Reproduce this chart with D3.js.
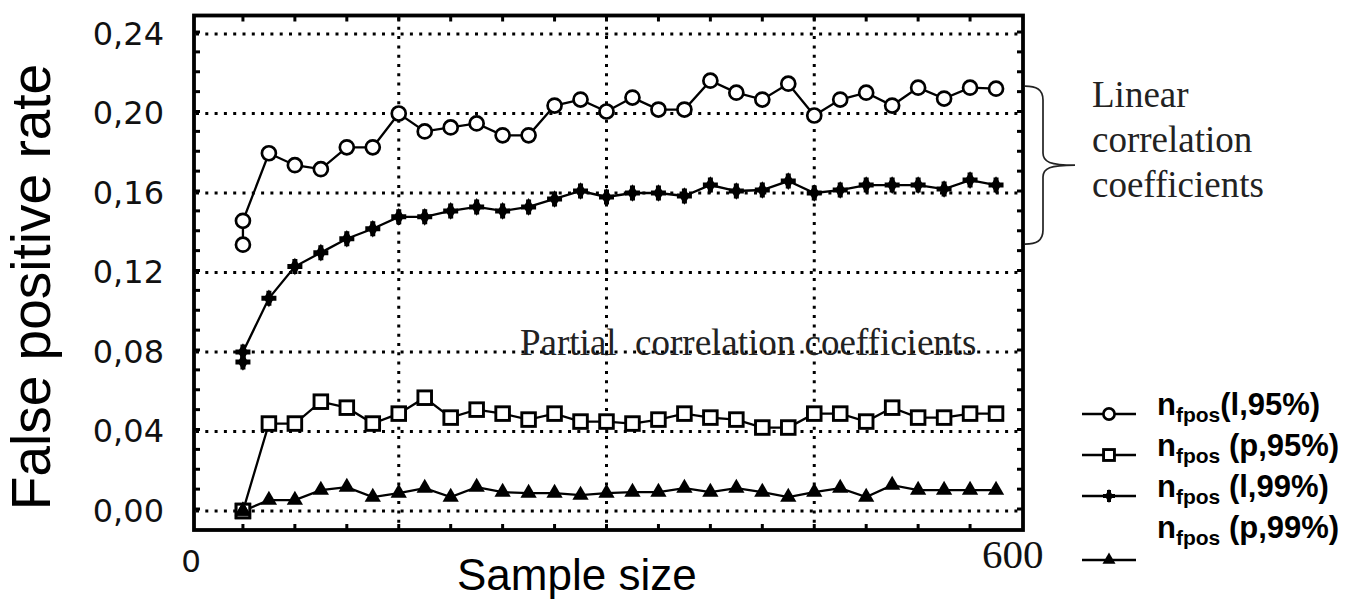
<!DOCTYPE html>
<html>
<head>
<meta charset="utf-8">
<script src="https://cdn.jsdelivr.net/npm/d3@7"></script>
<style>
  body { margin: 0; background: #fff; }
</style>
</head>
<body>
<svg id="chart" width="1356" height="601"></svg>
<script>
// sample sizes (two runs share the first size)
const sampleSize = [37.5, 37.5, 56.25, 75, 93.75, 112.5, 131.25, 150, 168.75, 187.5,
  206.25, 225, 243.75, 262.5, 281.25, 300, 318.75, 337.5, 356.25, 375,
  393.75, 412.5, 431.25, 450, 468.75, 487.5, 506.25, 525, 543.75, 562.5, 581.25];

const linear95 = [0.134, 0.146, 0.180, 0.174, 0.172, 0.183, 0.183, 0.200, 0.191, 0.193,
  0.195, 0.189, 0.189, 0.204, 0.207, 0.201, 0.208, 0.202, 0.202, 0.2165,
  0.2105, 0.207, 0.215, 0.199, 0.207, 0.2105, 0.204, 0.213, 0.2075, 0.213, 0.2125];

const partial95 = [0.0, 0.0, 0.044, 0.044, 0.055, 0.052, 0.044, 0.049, 0.057, 0.047,
  0.051, 0.049, 0.046, 0.049, 0.045, 0.045, 0.044, 0.046, 0.049, 0.047,
  0.046, 0.042, 0.042, 0.049, 0.049, 0.045, 0.052, 0.047, 0.047, 0.049, 0.049];

const linear99 = [0.075, 0.080, 0.107, 0.123, 0.130, 0.137, 0.142, 0.148, 0.148, 0.151,
  0.153, 0.151, 0.153, 0.157, 0.161, 0.158, 0.160, 0.160, 0.1585, 0.164,
  0.161, 0.1615, 0.166, 0.160, 0.1615, 0.164, 0.164, 0.164, 0.162, 0.1665, 0.164];

const partial99 = [0.0, 0.0, 0.0055, 0.0055, 0.0105, 0.012, 0.007, 0.009, 0.0115, 0.007,
  0.012, 0.0095, 0.009, 0.009, 0.008, 0.009, 0.0095, 0.0095, 0.0115, 0.0095,
  0.0115, 0.0095, 0.007, 0.0095, 0.0115, 0.007, 0.013, 0.0105, 0.0105, 0.0105, 0.0105];

const yTicks = [0, 0.04, 0.08, 0.12, 0.16, 0.20, 0.24];
const xLabels = [0, 600];
const xGrid = [150, 300, 450];
const braceRange = [0.2138, 0.1343];   // linear correlation group

const series = [
  { key: "(l,95%)", values: linear95, marker: "circle" },
  { key: " (p,95%)", values: partial95, marker: "square" },
  { key: " (l,99%)", values: linear99, marker: "cross" },
  { key: " (p,99%)", values: partial99, marker: "triangle" }
];

const svg = d3.select("#chart");

const x = d3.scaleLinear().domain([0, 600]).range([191, 1022]);
const y = d3.scaleLinear().domain([0, 0.24]).range([511, 34]);

const frame = { left: 194, right: 1023, top: 15.5, bottom: 530 };

// dotted grid
const grid = svg.append("g")
  .attr("stroke", "#000")
  .attr("stroke-width", 3)
  .attr("stroke-dasharray", "3,6.3");

grid.selectAll("line.h")
  .data(yTicks)
  .enter()
  .append("line")
  .attr("x1", frame.left + 2)
  .attr("x2", frame.right - 2)
  .attr("y1", d => y(d))
  .attr("y2", d => y(d));

grid.selectAll("line.v")
  .data(xGrid)
  .enter()
  .append("line")
  .attr("x1", d => x(d))
  .attr("x2", d => x(d))
  .attr("y1", frame.top + 2)
  .attr("y2", frame.bottom - 2);

// minor ticks, pointing inwards
const ticks = svg.append("g").attr("stroke", "#000").attr("stroke-width", 3);
const xMinor = d3.range(37.5, 600, 37.5);
const yMinor = d3.range(-0.009, 0.2499, 0.01).map(d => Math.round(d * 1000) / 1000);

xMinor.forEach(v => {
  ticks.append("line").attr("x1", x(v)).attr("x2", x(v))
    .attr("y1", frame.bottom).attr("y2", frame.bottom - 6);
  ticks.append("line").attr("x1", x(v)).attr("x2", x(v))
    .attr("y1", frame.top).attr("y2", frame.top + 6);
});
yMinor.forEach(v => {
  if (y(v) < frame.top + 3 || y(v) > frame.bottom - 3) return;
  ticks.append("line").attr("x1", frame.left).attr("x2", frame.left + 6)
    .attr("y1", y(v)).attr("y2", y(v));
  ticks.append("line").attr("x1", frame.right).attr("x2", frame.right - 6)
    .attr("y1", y(v)).attr("y2", y(v));
});

svg.append("rect")
  .attr("x", frame.left)
  .attr("y", frame.top)
  .attr("width", frame.right - frame.left)
  .attr("height", frame.bottom - frame.top)
  .attr("fill", "none")
  .attr("stroke", "#000")
  .attr("stroke-width", 3.8);

// y tick labels
const yAxis = d3.axisLeft(y)
  .tickValues(yTicks)
  .tickSize(0)
  .tickPadding(30)
  .tickFormat(d => d3.format(".2f")(d).replace(".", ","));

svg.append("g")
  .attr("transform", `translate(${frame.left},0)`)
  .call(yAxis)
  .call(g => g.select(".domain").remove())
  .selectAll("text")
  .attr("font-family", "DejaVu Sans, sans-serif")
  .attr("font-size", 32)
  .attr("fill", "#111");

// x labels: "0" in the axis font, "600" in serif like the original
svg.append("text")
  .attr("x", x(xLabels[0]))
  .attr("y", 572)
  .attr("text-anchor", "middle")
  .attr("font-family", "DejaVu Sans, sans-serif")
  .attr("font-size", 31)
  .attr("fill", "#111")
  .text(xLabels[0]);

svg.append("text")
  .attr("x", 982)
  .attr("y", 568)
  .attr("font-family", "Liberation Serif, serif")
  .attr("font-size", 41)
  .attr("fill", "#111")
  .text(xLabels[1]);

// axis titles
svg.append("text")
  .attr("transform", "translate(50,287) rotate(-90)")
  .attr("text-anchor", "middle")
  .attr("font-family", "Liberation Sans, Arial, sans-serif")
  .attr("font-size", 55)
  .text("False positive rate");

svg.append("text")
  .attr("x", 457)
  .attr("y", 590)
  .attr("font-family", "Liberation Sans, Arial, sans-serif")
  .attr("font-size", 44)
  .text("Sample size");

// markers
function drawMarker(g, type, cx, cy, scale) {
  const s = scale || 1;
  if (type === "circle") {
    g.append("circle").attr("cx", cx).attr("cy", cy).attr("r", 7 * s)
      .attr("fill", "#fff").attr("stroke", "#000").attr("stroke-width", 2.7);
  } else if (type === "square") {
    g.append("rect").attr("x", cx - 6.8 * s).attr("y", cy - 6.8 * s)
      .attr("width", 13.6 * s).attr("height", 13.6 * s)
      .attr("fill", "#fff").attr("stroke", "#000").attr("stroke-width", 2.9);
  } else if (type === "cross") {
    g.append("path").attr("transform", `translate(${cx},${cy})`)
      .attr("d", d3.symbol(d3.symbolCross, 125 * s * s)());
    g.append("path").attr("transform", `translate(${cx},${cy})`)
      .attr("d", d3.symbol(d3.symbolDiamond, 90 * s * s)());
  } else if (type === "triangle") {
    g.append("path").attr("transform", `translate(${cx},${cy})`)
      .attr("d", d3.symbol(d3.symbolTriangle, 115 * s * s)());
  }
}

const line = d3.line()
  .x((d, i) => x(sampleSize[i]))
  .y(d => y(d));

const plot = svg.append("g");

series.forEach(s => {
  plot.append("path")
    .attr("d", line(s.values))
    .attr("fill", "none")
    .attr("stroke", "#000")
    .attr("stroke-width", 2.3);
});

series.forEach(s => {
  const mg = plot.append("g").attr("fill", "#000");
  s.values.forEach((v, i) => drawMarker(mg, s.marker, x(sampleSize[i]), y(v)));
});

// annotations
svg.append("text")
  .attr("x", 520)
  .attr("y", 355)
  .attr("font-family", "Liberation Serif, serif")
  .attr("font-size", 37)
  .attr("fill", "#222")
  .style("white-space", "pre")
  .text("Partial  correlation coefficients");

const yTop = y(braceRange[0]);
const yBot = y(braceRange[1]);
const yMid = (yTop + yBot) / 2;
svg.append("path")
  .attr("d", `M1025,${yTop} C1036,${yTop} 1043,${yTop + 3} 1043,${yTop + 14}`
    + ` L1043,${yMid - 12} C1043,${yMid - 3} 1050,${yMid} 1075,${yMid}`
    + ` C1050,${yMid} 1043,${yMid + 3} 1043,${yMid + 12}`
    + ` L1043,${yBot - 14} C1043,${yBot - 3} 1036,${yBot} 1025,${yBot}`)
  .attr("fill", "none")
  .attr("stroke", "#222")
  .attr("stroke-width", 1.7);

const linText = svg.append("text")
  .attr("font-family", "Liberation Serif, serif")
  .attr("font-size", 37)
  .attr("fill", "#222");
["Linear", "correlation", "coefficients"].forEach((t, i) => {
  linText.append("tspan").attr("x", 1092).attr("y", 107 + i * 45).text(t);
});

// legend
const legendRows = [
  { text: 415, line: 414 },
  { text: 456, line: 455 },
  { text: 497, line: 496 },
  { text: 538, line: 560 }
];
const legend = svg.append("g");
series.forEach((s, i) => {
  const r = legendRows[i];
  legend.append("line")
    .attr("x1", 1082).attr("x2", 1136)
    .attr("y1", r.line).attr("y2", r.line)
    .attr("stroke", "#000").attr("stroke-width", 2.7);
  const mg = legend.append("g").attr("fill", "#000");
  drawMarker(mg, s.marker, 1109, r.line, 0.8);

  const t = legend.append("text")
    .attr("x", 1157)
    .attr("y", r.text)
    .attr("font-family", "Liberation Sans, Arial, sans-serif")
    .attr("font-weight", "bold")
    .attr("font-size", 31)
    .style("white-space", "pre");
  t.append("tspan").text("n");
  t.append("tspan").attr("font-size", 21).attr("dy", 7).text("fpos");
  t.append("tspan").attr("dy", -7).text(s.key);
});
</script>
</body>
</html>
